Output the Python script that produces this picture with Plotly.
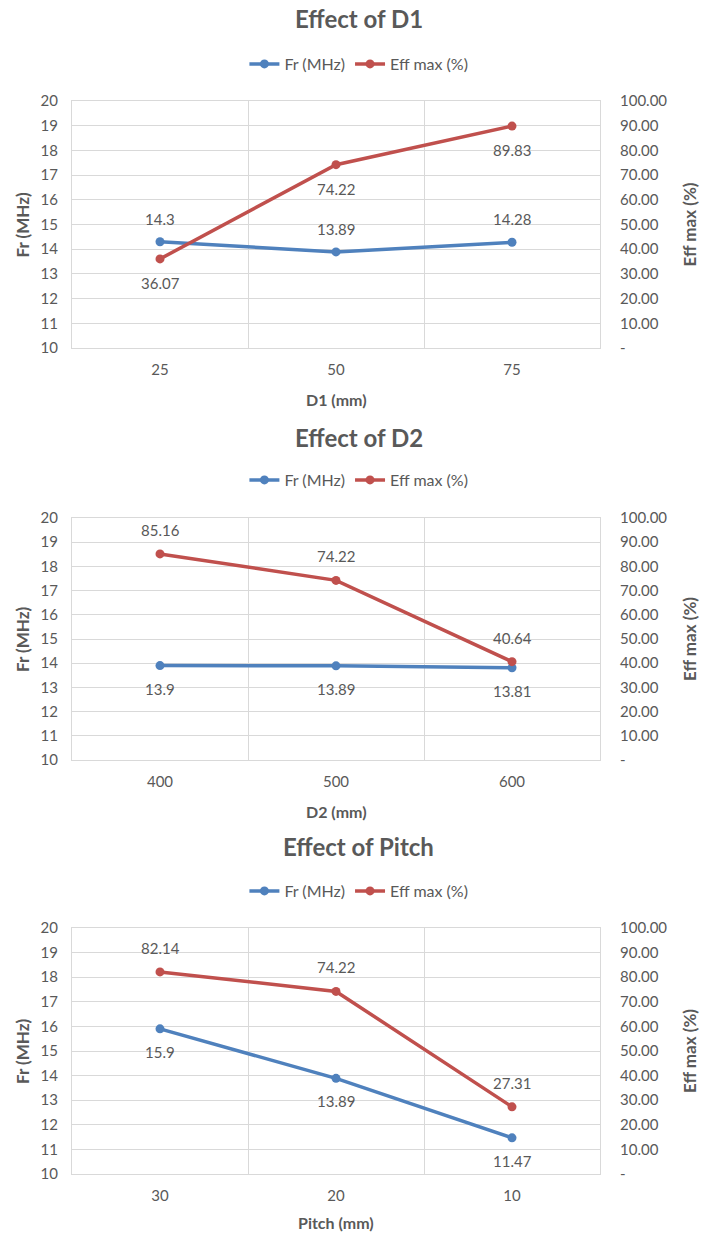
import plotly.graph_objects as go
from plotly.subplots import make_subplots

# ---- data ----
titles = ["Effect of D1", "Effect of D2", "Effect of Pitch"]
x_titles = ["D1 (mm)", "D2 (mm)", "Pitch (mm)"]
cats_d1 = ["25", "50", "75"]
cats_d2 = ["400", "500", "600"]
cats_pitch = ["30", "20", "10"]
fr_d1 = [14.3, 13.89, 14.28]
eff_d1 = [36.07, 74.22, 89.83]
fr_d2 = [13.9, 13.89, 13.81]
eff_d2 = [85.16, 74.22, 40.64]
fr_pitch = [15.9, 13.89, 11.47]
eff_pitch = [82.14, 74.22, 27.31]
fr_label_side = [1, -1, -1]     # +1 label above point, -1 below
eff_label_side = [-1, 1, 1]
left_ticks = list(range(10, 21))
right_ticks = list(range(0, 101, 10))
right_ticktext = ["-" if v == 0 else f"{v:.2f}" for v in right_ticks]

cats = [cats_d1, cats_d2, cats_pitch]
frs = [fr_d1, fr_d2, fr_pitch]
effs = [eff_d1, eff_d2, eff_pitch]

W, H = 701, 1240
BLUE = "#4F81BD"
RED = "#C0504D"
GREY = "#595959"
GRID = "#D9D9D9"
FONT = "Lato, Carlito, Calibri, sans-serif"

# pixel layout of each panel: (plot top, plot bottom, title y, legend y, x-title y)
panels = [(101, 348, 18, 64, 400), (518, 760, 437, 480, 812), (928, 1174, 846, 891, 1222)]
px_left, px_right = 72, 600

def py(p):
    return 1 - p / H

fig = make_subplots(rows=3, cols=1, specs=[[{"secondary_y": True}]] * 3)

legend_names = ["legend", "legend2", "legend3"]
for i in range(3):
    r = i + 1
    xref = "x" if i == 0 else f"x{r}"
    yref1 = "y" if i == 0 else f"y{2 * i + 1}"
    yref2 = f"y{2 * i + 2}"
    fig.add_trace(go.Scatter(
        x=cats[i], y=frs[i], name="Fr (MHz)", mode="lines+markers",
        line=dict(color=BLUE, width=3.5), marker=dict(size=9, color=BLUE),
        legend=legend_names[i],
    ), row=r, col=1, secondary_y=False)
    fig.add_trace(go.Scatter(
        x=cats[i], y=effs[i], name="Eff max (%)", mode="lines+markers",
        line=dict(color=RED, width=3.5), marker=dict(size=9, color=RED),
        legend=legend_names[i],
    ), row=r, col=1, secondary_y=True)

    # data labels (category axes: annotation x is the category's serial index)
    for j, v in enumerate(frs[i]):
        fig.add_annotation(x=j, y=v, xref=xref, yref=yref1, text=f"{v:g}", showarrow=False,
                           yshift=23 * fr_label_side[i],
                           font=dict(size=15, color=GREY, family=FONT))
    for j, v in enumerate(effs[i]):
        fig.add_annotation(x=j, y=v, xref=xref, yref=yref2, text=f"{v:.2f}", showarrow=False,
                           yshift=24 * eff_label_side[i],
                           font=dict(size=15, color=GREY, family=FONT))

    top, bot, ty, ly, xty = panels[i]
    fig.update_xaxes(
        domain=[px_left / W, px_right / W], type="category", tickson="boundaries",
        range=[-0.5, 2.5], automargin=False,
        showgrid=True, gridcolor=GRID, gridwidth=1, showline=True, linecolor=GRID,
        mirror=True, ticks="", tickfont=dict(size=15, color=GREY, family=FONT),
        ticklabelstandoff=8, zeroline=False, row=r, col=1)
    fig.update_yaxes(
        domain=[py(bot), py(top)], range=[10, 20], tickvals=left_ticks, automargin=False,
        showgrid=True, gridcolor=GRID, gridwidth=1, showline=True, linecolor=GRID,
        ticks="", tickfont=dict(size=15, color=GREY, family=FONT), zeroline=False,
        ticklabelstandoff=10, row=r, col=1, secondary_y=False)
    fig.update_yaxes(
        range=[0, 100], tickvals=right_ticks, ticktext=right_ticktext, automargin=False,
        showgrid=False, showline=True, linecolor=GRID, ticks="",
        tickfont=dict(size=15, color=GREY, family=FONT), zeroline=False,
        ticklabelstandoff=16, row=r, col=1, secondary_y=True)

    fig.add_annotation(text=f"<b>{titles[i]}</b>", x=0.512, y=py(ty), xref="paper", yref="paper",
                       yanchor="middle", showarrow=False,
                       font=dict(size=24, color=GREY, family=FONT))
    fig.add_annotation(text=f"<b>{x_titles[i]}</b>", x=(px_left + px_right) / 2 / W, y=py(xty),
                       xref="paper", yref="paper", yanchor="middle", showarrow=False,
                       font=dict(size=16, color=GREY, family=FONT))
    fig.add_annotation(text="<b>Fr (MHz)</b>", x=22 / W, y=py((top + bot) / 2), xref="paper",
                       yref="paper", xanchor="center", yanchor="middle", showarrow=False,
                       textangle=-90, font=dict(size=17, color=GREY, family=FONT))
    fig.add_annotation(text="<b>Eff max (%)</b>", x=689 / W, y=py((top + bot) / 2), xref="paper",
                       yref="paper", xanchor="center", yanchor="middle", showarrow=False,
                       textangle=-90, font=dict(size=17, color=GREY, family=FONT))

    fig.update_layout(**{legend_names[i]: dict(
        orientation="h", x=0.512, xanchor="center", y=py(ly), yanchor="middle",
        font=dict(size=16, color=GREY, family=FONT), bgcolor="rgba(0,0,0,0)",
        itemwidth=30, tracegroupgap=0)})

fig.update_layout(width=W, height=H, margin=dict(l=0, r=0, t=0, b=0, autoexpand=False),
                  paper_bgcolor="white", plot_bgcolor="white", showlegend=True,
                  font=dict(family=FONT, color=GREY))

fig.write_html("out.html")
